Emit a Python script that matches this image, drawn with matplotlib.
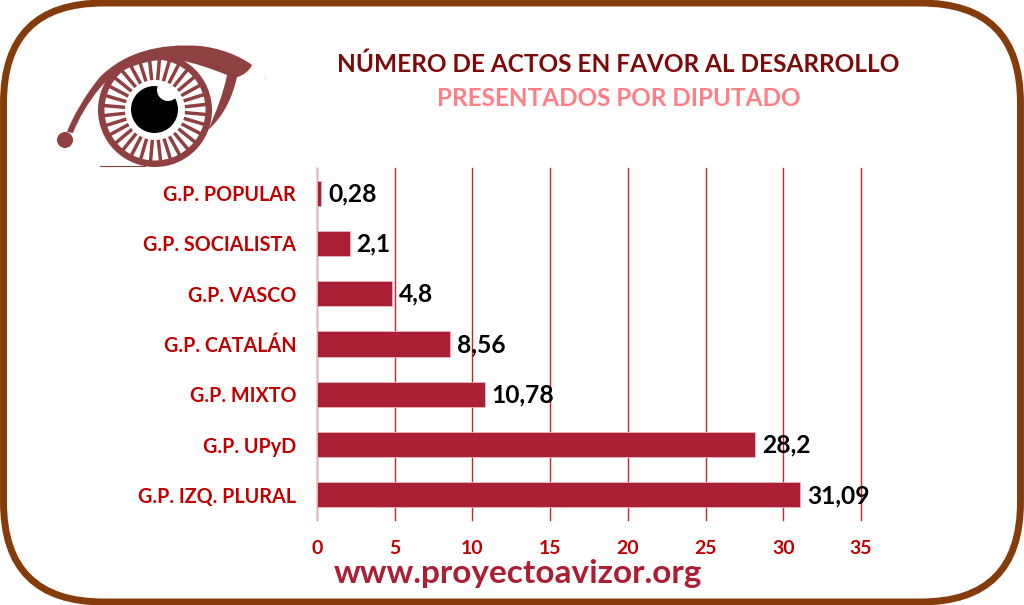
import numpy as np
import matplotlib
matplotlib.use("Agg")
import matplotlib.pyplot as plt
from matplotlib.patches import Circle, FancyBboxPatch, PathPatch
from matplotlib.path import Path

groups = ["G.P. POPULAR", "G.P. SOCIALISTA", "G.P. VASCO", "G.P. CATALÁN",
          "G.P. MIXTO", "G.P. UPyD", "G.P. IZQ. PLURAL"]
acts = [0.28, 2.1, 4.8, 8.56, 10.78, 28.2, 31.09]
value_labels = ["0,28", "2,1", "4,8", "8,56", "10,78", "28,2", "31,09"]
x_ticks = [0, 5, 10, 15, 20, 25, 30, 35]

W, H = 1024, 605
BAR = "#AB1F35"
RED = "#C00000"
FRAME = "#843C0C"
LOGO = "#8F4040"

plt.rcParams["font.family"] = ["Lato", "DejaVu Sans"]
plt.rcParams["font.weight"] = "bold"

fig = plt.figure(figsize=(W / 100, H / 100), dpi=100, facecolor="white")

# Overlay in pixel coordinates for the frame, logo and headings
bg = fig.add_axes([0, 0, 1, 1], zorder=0)
bg.set_xlim(0, W)
bg.set_ylim(H, 0)
bg.axis("off")

bg.add_patch(FancyBboxPatch((3.5, 3), W - 7, H - 6,
                            boxstyle="round,pad=0,rounding_size=100",
                            fc="white", ec=FRAME, lw=5))

# Eye logo: iris ring with spokes, pupil, highlight, then the lid and its tail
cx, cy = 155, 110
bg.add_patch(Circle((cx, cy), 57, fc=LOGO, ec="none"))
bg.add_patch(Circle((cx, cy), 50.5, fc="white", ec="none"))
for ang in np.arange(0, 360, 11.25) + 5:
    a = np.deg2rad(ang)
    bg.plot([cx + 30 * np.cos(a), cx + 52 * np.cos(a)],
            [cy + 30 * np.sin(a), cy + 52 * np.sin(a)],
            color=LOGO, lw=2.5, solid_capstyle="butt")
bg.add_patch(Circle((154.5, 109.5), 23.5, fc="black", ec="none"))
bg.add_patch(Circle((168, 90), 11, fc="white", ec="none"))

C = Path.CURVE4
lid = Path(
    [(67, 132),
     (72, 118), (85, 95), (100, 77),
     (125, 52), (160, 43), (200, 46),
     (220, 48), (240, 56), (252, 65),
     (250, 70), (243, 76), (237, 77),
     (233, 95), (225, 115), (208, 130),
     (216, 112), (223, 95), (227, 75),
     (212, 69), (195, 63), (183, 61),
     (150, 55), (115, 70), (100, 88),
     (88, 102), (78, 120), (73, 133),
     (67, 132)],
    [Path.MOVETO] + [C] * 27 + [Path.CLOSEPOLY])
bg.add_patch(PathPatch(lid, fc=LOGO, ec="none"))
bg.add_patch(Circle((65, 140), 8, fc=LOGO, ec="none"))
bg.plot([100, 145], [166, 166], color=LOGO, lw=0.8)
bg.plot([265], [78], marker="o", ms=0.8, color="#B09090", mec="none")

bg.text(618, 64, "NÚMERO DE ACTOS EN FAVOR AL DESARROLLO", color="#7B0A0A",
        fontsize=17.6, ha="center", va="center")
bg.text(619, 99, "PRESENTADOS POR DIPUTADO", color="#FF7F87",
        fontsize=17.5, ha="center", va="center")
bg.text(518, 573, "www.proyectoavizor.org", color=BAR,
        fontsize=24, ha="center", va="center")

# Horizontal bar chart
left, right = 317.0, 861.0
top, bottom = 168.0, 520.0
ax = fig.add_axes([left / W, 1 - bottom / H, (right - left) / W, (bottom - top) / H],
                  zorder=1)
ax.patch.set_alpha(0)
y = np.arange(len(groups))
ax.barh(y, acts, height=0.5, color=BAR, edgecolor="#E8B8C0", linewidth=0.6, zorder=3)
ax.set_xlim(0, 35)
ax.set_ylim(len(groups) - 0.5, -0.5)
ax.set_xticks(x_ticks)
ax.set_yticks(y)
ax.set_yticklabels(groups)
ax.xaxis.grid(True, color="#D0202A", lw=1.0, zorder=1, clip_on=False)
ax.set_axisbelow(True)
for name, spine in ax.spines.items():
    spine.set_visible(name == "left")
ax.spines["left"].set_color("#D9D9D9")
ax.spines["left"].set_linewidth(1.2)
ax.tick_params(axis="both", length=0)
ax.tick_params(axis="x", colors=RED, labelsize=14, pad=14.5)
ax.tick_params(axis="y", colors=RED, labelsize=14.2, pad=15)

for yi, val, lab in zip(y, acts, value_labels):
    ax.annotate(lab, (val, yi), xytext=(5, -0.5), textcoords="offset points",
                color="black", fontsize=17.7, va="center", ha="left", zorder=4)

fig.savefig("out.png", dpi=100, facecolor="white")
